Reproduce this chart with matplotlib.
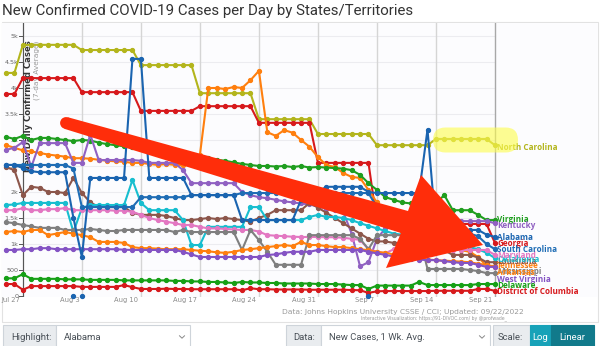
import matplotlib
matplotlib.use('Agg')
import matplotlib.pyplot as plt
from matplotlib.patches import Polygon, Rectangle, FancyBboxPatch, Circle
from matplotlib.lines import Line2D

# ---------------- data (day 0 = Jul 25, 2022 ... day 58 = Sep 21, 2022) ----------------
days = list(range(59))
tick_days = [2, 9, 16, 23, 30, 37, 44, 51, 58]
tick_labels = ['Jul 27', 'Aug 3', 'Aug 10', 'Aug 17', 'Aug 24', 'Aug 31', 'Sep 7', 'Sep 14', 'Sep 21']
y_ticks = [0, 500, 1000, 1500, 2000, 2500, 3000, 3500, 4000, 4500, 5000]
y_tick_labels = ['0', '500', '1k', '1.5k', '2k', '2.5k', '3k', '3.5k', '4k', '4.5k', '5k']

north_carolina = [4290, 4290,
    4830, 4830, 4830, 4830, 4830, 4830, 4830,
    4730, 4730, 4730, 4730, 4730, 4730, 4730,
    4440, 4440, 4440, 4440, 4440, 4440, 4440,
    3900, 3900, 3900, 3900, 3900, 3900, 3900,
    3400, 3400, 3400, 3400, 3400, 3400, 3400,
    3115, 3115, 3115, 3115, 3115, 3115, 3115,
    2900, 2900, 2900, 2900, 2900, 2900, 2900,
    3020, 3020, 3020, 3020, 3020, 3020, 3020,
    2900]
georgia = [3885, 3885,
    4190, 4190, 4190, 4190, 4190, 4190, 4190,
    3920, 3920, 3920, 3920, 3920, 3920, 3920,
    3560, 3560, 3560, 3560, 3560, 3560, 3560,
    3650, 3650, 3650, 3650, 3650, 3650, 3650,
    3330, 3330, 3330, 3330, 3330, 3330, 3330,
    2560, 2560, 2560, 2560, 2560, 2560, 2560,
    1420, 1420, 1420, 1420, 1420, 1420, 1420,
    1385, 1385, 1385, 1385, 1385, 1385, 1385,
    1020]
tennessee = [2900, 2850,
    2800, 2780, 2750, 2720, 2700, 2680, 2650,
    2650, 2640, 2620, 2600, 2590, 2580, 2560,
    2560, 2540, 2520, 2540, 2520, 2520, 2540,
    2710, 4000, 4000, 3980, 4020, 4000, 4150,
    4330, 3150, 3080, 3190, 3140, 3000, 2870,
    2670, 2520, 2480, 2365, 2290, 2270, 2040,
    1800, 1600, 1400, 1250, 1150, 1050, 1000,
    940, 920, 900, 880, 850, 750, 580,
    577]
arkansas = [1230, 1250,
    1230, 1270, 1270, 1170, 1200, 1230, 1200,
    1170, 1130, 1040, 1040, 1040, 1020, 940,
    920, 920, 910, 900, 900, 900, 885,
    870, 860, 840, 830, 850, 885, 900,
    920, 940, 960, 980, 960, 1040, 980,
    980, 960, 940, 940, 920, 900, 880,
    850, 830, 800, 780, 760, 740, 700,
    690, 680, 670, 660, 650, 620, 600,
    560]
virginia = [3060, 3020,
    3080, 3000, 3040, 3040, 3020, 3000, 2980,
    3000, 2990, 2950, 2920, 2900, 2880, 2870,
    2860, 2850, 2830, 2800, 2780, 2750, 2700,
    2680, 2650, 2620, 2600, 2570, 2540, 2520,
    2500, 2500, 2490, 2500, 2480, 2500, 2470,
    2480, 2470, 2460, 2450, 2420, 2330, 2170,
    2040, 1900, 1850, 1800, 1780, 1760, 1750,
    1790, 1940, 1650, 1650, 1650, 1560, 1460,
    1460]
kentucky = [2810, 2850,
    2960, 2480, 2940, 2940, 2940, 2940, 2560,
    2560, 3100, 2615, 2615, 2615, 2615, 2615,
    2600, 2560, 2560, 2560, 2560, 2420, 2170,
    2170, 2170, 2170, 2170, 2170, 2000, 1940,
    1900, 1880, 1850, 1820, 1800, 1780, 1760,
    1720, 1680, 1650, 1620, 1200, 570, 650,
    1100, 1300, 1400, 1400, 1420, 1420, 1420,
    1430, 1430, 1440, 1440, 1440, 1440, 1440,
    1400]
alabama = [2520, 2520,
    2460, 2400, 2380, 2380, 2380, 2380, 1500,
    750, 2270, 2270, 2270, 2270, 2270, 4560,
    4560, 2270, 2270, 2270, 2270, 2270, 1940,
    1940, 1940, 1940, 1940, 1940, 1460, 1460,
    1460, 1460, 1460, 1460, 1460, 1850, 2000,
    2000, 2100, 2100, 2100, 2100, 2100, 2000,
    1980, 1980, 1980, 1980, 1980, 1980, 3200,
    1300, 1270, 1270, 1270, 1270, 1270, 1180,
    1135]
south_carolina = [2520, 2520,
    2520, 2520, 2520, 2520, 2520, 2520, 2450,
    1710, 1710, 1710, 1710, 1710, 1710, 1710,
    1900, 1900, 1900, 1900, 1900, 1900, 1940,
    1940, 1940, 1940, 1940, 1940, 1980, 1980,
    1980, 1980, 1980, 1980, 1980, 1980, 1980,
    1980, 1980, 1980, 1980, 1980, 1980, 1980,
    1700, 1500, 1400, 1300, 1250, 1250, 1250,
    1200, 1200, 1200, 1200, 1200, 1150, 1000,
    900]
louisiana = [2480, 2420,
    1940, 2100, 2080, 2000, 2000, 1980, 2270,
    1980, 1800, 1710, 1710, 1710, 1710, 1600,
    1560, 1560, 1560, 1540, 1500, 1460, 1460,
    1480, 1500, 1480, 1500, 1480, 1460, 1430,
    1500, 1560, 1650, 1650, 1650, 1650, 1790,
    1700, 1600, 1500, 1400, 1300, 1200, 1100,
    1050, 1050, 1020, 1020, 1000, 1000, 980,
    900, 880, 790, 790, 790, 740, 650,
    650]
oklahoma = [1750, 1760,
    1790, 1790, 1790, 1790, 1790, 1790, 1230,
    1690, 1750, 1750, 1750, 1750, 1750, 2230,
    1790, 1650, 1650, 1650, 1650, 1460, 980,
    980, 1330, 1330, 1330, 1330, 1330, 1710,
    1710, 1460, 1460, 1460, 1460, 1460, 1520,
    1560, 1520, 1520, 1500, 1460, 1400, 1350,
    1300, 1250, 1200, 1180, 1150, 1120, 1100,
    1050, 1000, 950, 950, 940, 900, 830,
    730]
maryland = [1650, 1650,
    1690, 1650, 1650, 1670, 1670, 1690, 1650,
    1650, 1650, 1650, 1650, 1640, 1640, 1620,
    1560, 1500, 1460, 1430, 1400, 1365, 1365,
    1330, 1300, 1300, 1290, 1280, 1270, 1270,
    1240, 1170, 1160, 1150, 1140, 1135, 1135,
    1135, 1130, 1130, 1120, 1100, 1080, 900,
    850, 820, 900, 950, 930, 900, 900,
    900, 900, 885, 885, 885, 885, 885,
    790]
mississippi = [1420, 1400,
    1365, 1340, 1310, 1310, 1310, 1270, 1270,
    1270, 1290, 1270, 1250, 1250, 1270, 1270,
    1270, 1270, 1270, 1270, 1230, 1270, 1230,
    1230, 1230, 1230, 1230, 1230, 885, 1270,
    1075, 850, 600, 600, 600, 600, 1170,
    1170, 1170, 1170, 1170, 1170, 1100, 900,
    1170, 1170, 1170, 1170, 1170, 1170, 520,
    520, 520, 520, 520, 500, 480, 440,
    440]
west_virginia = [885, 885,
    900, 900, 920, 920, 900, 900, 900,
    900, 900, 900, 900, 900, 890, 885,
    885, 885, 885, 885, 885, 850, 800,
    750, 750, 750, 750, 750, 750, 750,
    750, 790, 800, 830, 850, 850, 850,
    885, 885, 885, 885, 885, 885, 850,
    820, 790, 760, 740, 720, 700, 690,
    690, 670, 650, 635, 635, 600, 560,
    560]
delaware = [340, 340,
    420, 330, 330, 330, 330, 320, 320,
    320, 310, 310, 310, 310, 300, 300,
    300, 300, 300, 300, 290, 290, 280,
    280, 270, 270, 260, 250, 270, 260,
    260, 250, 250, 240, 240, 240, 240,
    230, 230, 230, 220, 210, 210, 135,
    200, 200, 200, 200, 200, 270, 210,
    210, 210, 210, 210, 210, 230, 230,
    230]
district_of_columbia = [230, 230,
    120, 190, 190, 190, 190, 190, 190,
    175, 175, 175, 175, 175, 210, 170,
    135, 135, 135, 140, 135, 135, 130,
    130, 130, 130, 130, 130, 110, 150,
    130, 130, 125, 125, 125, 125, 120,
    120, 120, 120, 120, 115, 110, 60,
    90, 95, 95, 95, 95, 95, 95,
    100, 100, 100, 100, 100, 135, 135,
    100]
zero_report_days = [8, 9, 43]

series = [
    ('North Carolina', north_carolina, '#b3b51c'),
    ('Georgia', georgia, '#d7191c'),
    ('Tennessee', tennessee, '#ff7f0e'),
    ('Virginia', virginia, '#1f9e1f'),
    ('Kentucky', kentucky, '#9061c2'),
    ('Louisiana', louisiana, '#8c564b'),
    ('Oklahoma', oklahoma, '#17becf'),
    ('Maryland', maryland, '#e377c2'),
    ('Mississippi', mississippi, '#7f7f7f'),
    ('Arkansas', arkansas, '#ff7f0e'),
    ('West Virginia', west_virginia, '#8453c4'),
    ('South Carolina', south_carolina, '#1f6db5'),
    ('Alabama', alabama, '#1a64b0'),
    ('Delaware', delaware, '#16a016'),
    ('District of Columbia', district_of_columbia, '#d7191c'),
]

# label layout (pixel rows of the end labels)
label_rows = {'North Carolina': 147, 'Virginia': 220, 'Kentucky': 226, 'Alabama': 237,
              'Georgia': 243, 'South Carolina': 249, 'Maryland': 255, 'Oklahoma': 259.5,
              'Louisiana': 261, 'Tennessee': 266, 'Mississippi': 272, 'Arkansas': 272.5,
              'West Virginia': 279, 'Delaware': 285, 'District of Columbia': 291}

# ---------------- figure ----------------
W, H = 600, 346
fig = plt.figure(figsize=(6.0, 3.46), dpi=100)
fig.patch.set_facecolor('white')

# background overlay in pixel coordinates
ov = fig.add_axes([0, 0, 1, 1], zorder=0)
ov.set_xlim(0, W)
ov.set_ylim(H, 0)
ov.axis('off')

ov.add_patch(Rectangle((2, 22), 596, 300, facecolor='white', edgecolor='#e2e2e2', lw=0.8))
ov.add_patch(Rectangle((2, 23), 596, 274, facecolor='#fcfcfe', edgecolor='none'))

# data axes
x0, x1 = (2 - 6) / 8.43, (598 - 6) / 8.43
y0, y1 = (296 - 297) / 0.052, (296 - 23) / 0.052
ax = fig.add_axes([2 / W, 1 - 297 / H, 596 / W, 274 / H], zorder=2)
ax.set_xlim(x0, x1)
ax.set_ylim(y0, y1)
ax.patch.set_alpha(0)
for s in ax.spines.values():
    s.set_visible(False)
ax.set_xticks([])
ax.set_yticks([])

# grid
for v in y_ticks[1:]:
    ax.plot([2, 58], [v, v], color='#ececf0', lw=0.8, zorder=0)
for d in tick_days:
    ax.axvline(d, color='#d5d5d5' if d != 58 else '#a8a8a8', lw=1.0, zorder=0)
ax.axvline(2, color='#555555', lw=0.8, zorder=1)
for v, lab in zip(y_ticks, y_tick_labels):
    ax.plot([1.55, 2], [v, v], color='#555555', lw=0.7, zorder=1)
    ax.text(1.45, v, lab, ha='right', va='center', fontsize=4.6, color='#666666',
            family='DejaVu Sans')
for d, lab in zip(tick_days, tick_labels):
    ax.text(d - 0.3, -85, lab, ha='right', va='center', fontsize=4.9, color='#8a8a8a',
            family='DejaVu Sans')

# y label
ax.text(2.7, 4920, 'New Daily Confirmed Cases', rotation=90, ha='center', va='top',
        fontsize=6.1, fontweight='bold', color='#333333', family='DejaVu Sans')
ax.text(3.7, 4920, '(7-day Average)', rotation=90, ha='center', va='top',
        fontsize=5.3, color='#9a9a9a', family='DejaVu Sans')

# series
for name, vals, col in series:
    ax.plot(days, vals, color=col, lw=1.5, marker='o', ms=2.8, zorder=3, clip_on=True)
ax.plot(zero_report_days, [0] * len(zero_report_days), 'o', color='#1a64b0', ms=2.8,
        zorder=3, clip_on=False)

# top overlay (labels, annotations, UI)
top = fig.add_axes([0, 0, 1, 1], zorder=5)
top.set_xlim(0, W)
top.set_ylim(H, 0)
top.axis('off')

for name, vals, col in series:
    top.text(497, label_rows[name], name, ha='left', va='center', fontsize=5.9,
             fontweight='bold', color=col, family='Open Sans', zorder=5)

# highlight blob around North Carolina
top.add_patch(FancyBboxPatch((433, 127.5), 85, 25, boxstyle='round,pad=0,rounding_size=12.5',
                             facecolor='#fcfc50', edgecolor='none', alpha=0.62, zorder=6))

# red arrow (tail -> tip)
arrow_pts = [(67.7, 117.2), (408.0, 211.0), (421.0, 175.0), (483.0, 245.0),
             (386.0, 268.0), (401.0, 233.0), (64.3, 128.8)]
top.add_patch(Polygon(arrow_pts, closed=True, facecolor='#ff2d0a', edgecolor='none', zorder=7))
top.add_patch(Circle((66, 123), 5.9, facecolor='#ff2d0a', edgecolor='none', zorder=7))

# title
top.text(2, 11, 'New Confirmed COVID-19 Cases per Day by States/Territories', ha='left',
         va='center', fontsize=10.8, color='#333333', family='Roboto')

# source text
top.text(403, 312, 'Data: Johns Hopkins University CSSE / CCI; Updated: 09/22/2022', ha='center',
         va='center', fontsize=5.4, color='#9a9a9a', family='DejaVu Sans')
top.text(434, 318.5, 'Interactive Visualization: https://91-DIVOC.com/ by @profwade_', ha='center',
         va='center', fontsize=3.3, color='#9a9a9a', family='DejaVu Sans')

# UI controls
def box(xa, xb, ya=325, yb=349, fc='white', ec='#ced4da', z=8):
    top.add_patch(Rectangle((xa, ya), xb - xa, yb - ya, facecolor=fc, edgecolor=ec, lw=0.8,
                            zorder=z))

def chevron(cx, cy):
    top.add_line(Line2D([cx - 2.5, cx, cx + 2.5], [cy - 1.2, cy + 1.2, cy - 1.2],
                        color='#888888', lw=0.7, zorder=9))

box(3, 55.5, fc='#e9ecef')
box(55.5, 190)
top.text(11, 337.5, 'Highlight:', ha='left', va='center', fontsize=6.8, color='#495057',
         family='Roboto', zorder=9)
top.text(64, 337.5, 'Alabama', ha='left', va='center', fontsize=6.8, color='#495057',
         family='Roboto', zorder=9)
chevron(182, 337)
box(286, 321, fc='#e9ecef')
box(321, 490)
top.text(293, 337.5, 'Data:', ha='left', va='center', fontsize=6.8, color='#495057',
         family='Roboto', zorder=9)
top.text(329, 337.5, 'New Cases, 1 Wk. Avg.', ha='left', va='center', fontsize=6.8,
         color='#495057', family='Roboto', zorder=9)
chevron(482, 337)
box(493, 530, fc='#e9ecef')
box(530, 551, fc='#17a2b8', ec='#17a2b8')
box(551, 594, fc='#117a8b', ec='#117a8b')
top.text(498, 337.5, 'Scale:', ha='left', va='center', fontsize=6.8, color='#495057',
         family='Roboto', zorder=9)
top.text(540.5, 337.5, 'Log', ha='center', va='center', fontsize=6.8, color='white',
         family='Roboto', zorder=9)
top.text(572.5, 337.5, 'Linear', ha='center', va='center', fontsize=6.8, color='white',
         family='Roboto', zorder=9)

fig.savefig('out.png', dpi=100)
